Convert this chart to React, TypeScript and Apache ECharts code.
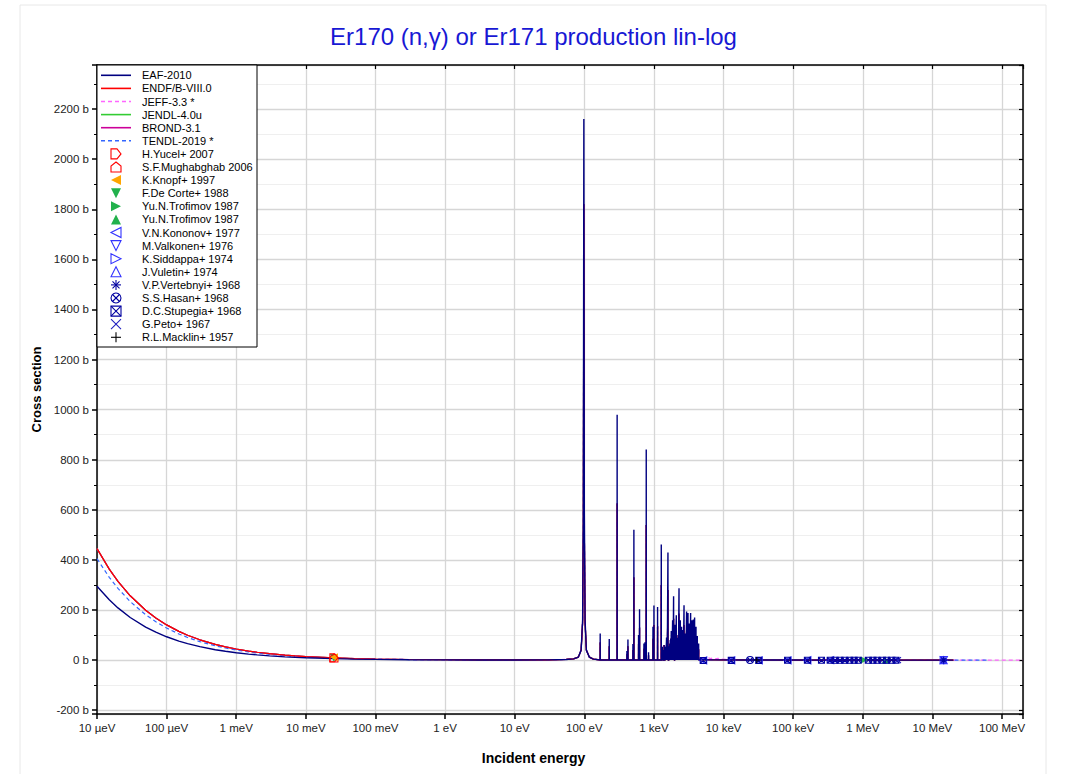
import React, { useEffect, useRef } from "react";
import * as echarts from "echarts";

// ---------- axes ----------
const xTickExponents = [-5, -4, -3, -2, -1, 0, 1, 2, 3, 4, 5, 6, 7, 8];
const xTickLabels = ["10 µeV", "100 µeV", "1 meV", "10 meV", "100 meV", "1 eV", "10 eV", "100 eV", "1 keV", "10 keV", "100 keV", "1 MeV", "10 MeV", "100 MeV"];
const energyMin = 1e-5;
const energyMax = 2e8;
const yMin = -215;
const yMax = 2376;

// ---------- evaluated curves (energy in eV, cross section in b) ----------
// 1/v region
const lowE = [1e-5, 1.5e-5, 2e-5, 3e-5, 5e-5, 7e-5, 1e-4, 1.5e-4, 2e-4, 3e-4, 5e-4, 7e-4, 1e-3, 1.5e-3, 2e-3, 3e-3, 5e-3, 7e-3, 1e-2, 0.0253, 0.05, 0.1, 0.3, 1, 3, 10, 30, 55];
const eafLow = [295, 240.9, 208.6, 170.3, 131.9, 111.5, 93.3, 76.2, 66.0, 53.9, 41.7, 35.3, 29.5, 24.1, 20.9, 17.0, 13.2, 11.1, 9.3, 5.9, 4.2, 3.0, 1.8, 1.1, 0.8, 0.7, 1.0, 2.6];
const endfLow = [445, 363.3, 314.7, 256.9, 199.0, 168.2, 140.7, 114.9, 99.5, 81.2, 62.9, 53.2, 44.5, 36.3, 31.5, 25.7, 19.9, 16.8, 14.1, 8.85, 6.3, 4.5, 2.6, 1.5, 1.0, 0.8, 1.1, 2.8];
const tendlLow = [405, 330.7, 286.4, 233.8, 181.1, 153.1, 128.1, 104.6, 90.6, 73.9, 57.3, 48.4, 40.5, 33.1, 28.6, 23.4, 18.1, 15.3, 12.8, 8.1, 5.7, 4.1, 2.4, 1.4, 0.95, 0.8, 1.1, 2.8];

// first (large) resonance
const res1E = [70, 82, 90, 94.5, 96.8, 98.4, 100, 102.5, 107, 118, 135];
const eafRes1 = [5, 12, 40, 160, 600, 2160, 600, 160, 40, 12, 4];
const othRes1 = [5, 12, 40, 150, 520, 1820, 520, 150, 40, 12, 4];

// resolved resonances
const resE = [169, 228, 296, 409, 423, 499, 515, 601, 621, 718, 743, 775, 836, 968, 1000, 1127, 1274, 1318, 1455, 1518, 1589, 1716, 1774, 1854, 1915, 2005, 2094, 2188, 2291, 2389, 2495, 2582, 2704, 2820, 2944, 3083, 3221, 3363, 3524, 3681, 3837, 4018, 4198, 4385];
const eafPeaks = [106, 84, 980, 36, 82, 64, 521, 100, 203, 66, 71, 841, 32, 133, 218, 212, 462, 53, 53, 90, 430, 80, 116, 159, 255, 141, 179, 89, 287, 159, 133, 120, 219, 106, 194, 188, 146, 188, 159, 162, 170, 133, 96, 66];
const othPeaks = [70, 55, 625, 25, 55, 40, 330, 65, 130, 45, 45, 540, 20, 85, 140, 135, 300, 35, 35, 60, 280, 50, 75, 100, 165, 90, 115, 58, 185, 100, 85, 78, 140, 68, 125, 120, 95, 120, 100, 105, 110, 85, 62, 43];
// small resonances filling the dense region
const smallResE = [1350, 1400, 1480, 1550, 1650, 1690, 1740, 1810, 1880, 1950, 2040, 2130, 2240, 2340, 2440, 2540, 2640, 2760, 2880, 3010, 3150, 3290, 3440, 3600, 3760, 3920, 4100, 4300];
const smallResPk = [40, 60, 45, 70, 55, 65, 85, 70, 90, 75, 95, 80, 100, 85, 90, 70, 95, 80, 90, 100, 85, 95, 80, 90, 70, 85, 60, 45];
const resBase = 0.8;

// fast region
const highE = [4.6e3, 6e3, 1e4, 2e4, 5e4, 1e5, 3e5, 1e6, 3e6, 1e7, 2e7];
const eafHigh = [2.5, 1.8, 1.2, 0.8, 0.5, 0.35, 0.18, 0.12, 0.05, 0.005, 0.002];
const endfHigh = [3, 2, 1.3, 0.85, 0.5, 0.35, 0.18, 0.12, 0.05, 0.005, 0.002];
const jeffHighE = [4.6e3, 4.9e3, 5.2e3, 5.6e3, 6e3, 6.5e3, 7e3, 7.6e3, 8.3e3, 9e3, 1.1e4, 1.5e4, 3e4, 1e5, 1e6, 1e7, 2e7, 1e8, 2e8];
const jeffHigh = [10, 6, 11, 7, 10, 6, 9, 5, 7, 4, 3, 2, 1, 0.4, 0.12, 0.005, 0.002, 0.001, 0.0008];
const tendlHighE = [4.6e3, 1e4, 3e4, 1e5, 1e6, 1e7, 2e7, 6e7];
const tendlHigh = [3, 1.4, 0.7, 0.35, 0.12, 0.005, 0.002, 0.001];

// ---------- experimental data ----------
const yucelE = [0.0253]; const yucelS = [9.5];
const mughE = [0.0253]; const mughS = [8.6];
const knopfE = [0.0253]; const knopfS = [11.5];
const decorteE = [0.0253]; const decorteS = [8.3];
const trofAE = [1.05e6]; const trofAS = [0.2];
const trofBE = [2.1e6]; const trofBS = [0.15];
const kononovE = [5.1e3, 1.29e4, 3.2e4, 8.3e4, 1.6e5, 3.4e5]; const kononovS = [-1.0, -0.8, -0.6, -0.5, -0.4, -0.3];
const valkonenE = [14.6e6]; const valkonenS = [0.003];
const siddappaE = [14.5e6]; const siddappaS = [0.004];
const vuletinE = [14.5e6]; const vuletinS = [0.003];
const vertebnyiE = [14.5e6]; const vertebnyiS = [0.002];
const hasanE = [2.4e4]; const hasanS = [0.6];
const stupegiaE = [5.1e3, 1.29e4, 3.2e4, 8.3e4, 1.6e5, 2.55e5, 3.4e5, 4e5, 4.7e5, 5.5e5, 6.5e5, 7.5e5, 8.6e5, 1.2e6, 1.4e6, 1.6e6, 1.9e6, 2.2e6, 2.6e6, 3.0e6];
const stupegiaS = [-1.2, -1.0, -0.8, -0.7, -0.6, -0.5, -0.5, -0.4, -0.4, -0.4, -0.3, -0.3, -0.3, -0.3, -0.2, -0.2, -0.2, -0.2, -0.2, -0.2];
const petoE = [3.2e6]; const petoS = [0.05];
const macklinE = [3.0e4]; const macklinS = [0.5];

const legendNames = [
  "EAF-2010", "ENDF/B-VIII.0", "JEFF-3.3 *", "JENDL-4.0u", "BROND-3.1", "TENDL-2019 *",
  "H.Yucel+ 2007", "S.F.Mughabghab 2006", "K.Knopf+ 1997", "F.De Corte+ 1988",
  "Yu.N.Trofimov 1987", "Yu.N.Trofimov 1987", "V.N.Kononov+ 1977", "M.Valkonen+ 1976",
  "K.Siddappa+ 1974", "J.Vuletin+ 1974", "V.P.Vertebnyi+ 1968", "S.S.Hasan+ 1968",
  "D.C.Stupegia+ 1968", "G.Peto+ 1967", "R.L.Macklin+ 1957",
];

// legend styles (same order as legendNames)
const legendStyles: any[] = [
  { kind: "line", color: "#000080" },
  { kind: "line", color: "#ff0000" },
  { kind: "line", color: "#ff66ff", dashed: true },
  { kind: "line", color: "#33cc33" },
  { kind: "line", color: "#cc0099" },
  { kind: "line", color: "#3366ff", dashed: true },
  { kind: "mark", sym: "houseRight", color: "#ff0000", hollow: true },
  { kind: "mark", sym: "houseUp", color: "#ff0000", hollow: true },
  { kind: "mark", sym: "triLeft", color: "#ffa500", hollow: false },
  { kind: "mark", sym: "triDown", color: "#22b14c", hollow: false },
  { kind: "mark", sym: "triRight", color: "#22b14c", hollow: false },
  { kind: "mark", sym: "triUp", color: "#22b14c", hollow: false },
  { kind: "mark", sym: "triLeft", color: "#3333ff", hollow: true },
  { kind: "mark", sym: "triDown", color: "#3333ff", hollow: true },
  { kind: "mark", sym: "triRight", color: "#3333ff", hollow: true },
  { kind: "mark", sym: "triUp", color: "#3333ff", hollow: true },
  { kind: "mark", sym: "star", color: "#0000a0", hollow: true },
  { kind: "mark", sym: "circleX", color: "#0000a0", hollow: true },
  { kind: "mark", sym: "squareX", color: "#0000a0", hollow: true },
  { kind: "mark", sym: "cross", color: "#2020c0", hollow: true },
  { kind: "mark", sym: "plus", color: "#000000", hollow: true },
];

const SYM: Record<string, string> = {
  houseRight: "path://M0,0 L6,0 L10,5 L6,10 L0,10 Z",
  houseUp: "path://M5,0 L10,4 L10,10 L0,10 L0,4 Z",
  triLeft: "path://M0,5 L10,0 L10,10 Z",
  triRight: "path://M0,0 L10,5 L0,10 Z",
  triUp: "path://M5,0 L10,10 L0,10 Z",
  triDown: "path://M0,0 L10,0 L5,10 Z",
  circleX: "path://M10,5 A5,5 0 1 1 0,5 A5,5 0 1 1 10,5 Z M1.5,1.5 L8.5,8.5 M8.5,1.5 L1.5,8.5",
  squareX: "path://M0,0 L10,0 L10,10 L0,10 Z M0,0 L10,10 M10,0 L0,10",
  star: "path://M5,0 L5,10 M0,5 L10,5 M1.5,1.5 L8.5,8.5 M8.5,1.5 L1.5,8.5",
  cross: "path://M0,0 L10,10 M10,0 L0,10",
  plus: "path://M5,0 L5,10 M0,5 L10,5",
};

// unit-square (0..10) geometry for the legend markers
const POLY: Record<string, number[][]> = {
  houseRight: [[0, 0], [6, 0], [10, 5], [6, 10], [0, 10]],
  houseUp: [[5, 0], [10, 4], [10, 10], [0, 10], [0, 4]],
  triLeft: [[0, 5], [10, 0], [10, 10]],
  triRight: [[0, 0], [10, 5], [0, 10]],
  triUp: [[5, 0], [10, 10], [0, 10]],
  triDown: [[0, 0], [10, 0], [5, 10]],
};
const SEGS: Record<string, number[][]> = {
  star: [[5, 0, 5, 10], [0, 5, 10, 5], [1.5, 1.5, 8.5, 8.5], [8.5, 1.5, 1.5, 8.5]],
  cross: [[0, 0, 10, 10], [10, 0, 0, 10]],
  plus: [[5, 0, 5, 10], [0, 5, 10, 5]],
  circleX: [[1.5, 1.5, 8.5, 8.5], [8.5, 1.5, 1.5, 8.5]],
  squareX: [[0, 0, 10, 10], [10, 0, 0, 10]],
};

const lg = (e: number) => Math.log10(e);
const toPts = (E: number[], S: number[]) => E.map((e, i) => [lg(e), S[i]]);
const spikes = (E: number[], P: number[], base: number) => {
  const items = E.map((e, i) => ({ e, p: P[i] })).sort((a, b) => a.e - b.e);
  const out: number[][] = [];
  items.forEach(({ e, p }) => {
    out.push([lg(e * 0.998), base], [lg(e), p], [lg(e * 1.002), base]);
  });
  return out;
};

const allResE = [...resE, ...smallResE];
const eafAllPk = [...eafPeaks, ...smallResPk];
const othAllPk = [...othPeaks, ...smallResPk];

const buildCurve = (lE: number[], lS: number[], r1: number[], pk: number[], hE: number[], hS: number[]) => [
  ...toPts(lE, lS),
  ...toPts(res1E, r1),
  ...spikes(allResE, pk, resBase),
  ...toPts(hE, hS),
];

const lineSeries = (name: string, color: string, data: number[][], dashed = false, width = 1.2) => ({
  type: "line",
  name,
  data,
  symbol: "none",
  showSymbol: false,
  silent: true,
  lineStyle: { color, width, type: dashed ? [4, 3] : "solid" },
  itemStyle: { color },
  z: 2,
});

const scatterSeries = (name: string, E: number[], S: number[], sym: string, color: string, hollow: boolean, size = 7) => ({
  type: "scatter",
  name,
  data: toPts(E, S),
  symbol: SYM[sym],
  symbolSize: size,
  silent: true,
  itemStyle: hollow
    ? { color: "none", borderColor: color, borderWidth: 1.1, opacity: 1 }
    : { color, opacity: 1 },
  z: 3,
});

const font = "Liberation Sans, Arial, Helvetica, sans-serif";

function legendGraphic() {
  const bx = 97, by = 65, bw = 160, bh = 282;
  const rowH = 13.1, firstRow = 75.3;
  const iconX0 = 101, iconX1 = 131, iconCx = 116, textX = 142, ms = 10;
  const els: any[] = [
    { type: "rect", shape: { x: bx, y: by, width: bw, height: bh }, style: { fill: "#fff", stroke: "#000", lineWidth: 1 }, z: 20, silent: true },
  ];
  legendNames.forEach((name, i) => {
    const cy = firstRow + i * rowH;
    const st = legendStyles[i];
    if (st.kind === "line") {
      els.push({
        type: "line",
        shape: { x1: iconX0, y1: cy, x2: iconX1, y2: cy },
        style: { stroke: st.color, lineWidth: 1.6, lineDash: st.dashed ? [4, 3] : null },
        z: 21, silent: true,
      });
    } else {
      const tx = (u: number) => iconCx + (u - 5) * ms / 10;
      const ty = (v: number) => cy + (v - 5) * ms / 10;
      const stroke = { stroke: st.color, lineWidth: 1.1 };
      if (POLY[st.sym]) {
        els.push({
          type: "polygon",
          shape: { points: POLY[st.sym].map(([u, v]) => [tx(u), ty(v)]) },
          style: st.hollow ? { fill: "none", ...stroke } : { fill: st.color },
          z: 21, silent: true,
        });
      }
      if (st.sym === "circleX") {
        els.push({ type: "circle", shape: { cx: iconCx, cy, r: ms / 2 }, style: { fill: "none", ...stroke }, z: 21, silent: true });
      }
      if (st.sym === "squareX") {
        els.push({ type: "rect", shape: { x: tx(0), y: ty(0), width: ms, height: ms }, style: { fill: "none", ...stroke }, z: 21, silent: true });
      }
      (SEGS[st.sym] || []).forEach(([a, b, c, d]) => {
        els.push({ type: "line", shape: { x1: tx(a), y1: ty(b), x2: tx(c), y2: ty(d) }, style: { fill: "none", ...stroke }, z: 21, silent: true });
      });
    }
    els.push({
      type: "text",
      x: textX,
      y: cy,
      style: { text: name, fill: "#000", font: `11px ${font}`, verticalAlign: "middle", align: "left" },
      z: 21, silent: true,
    });
  });
  return els;
}

export default function App() {
  const ref = useRef<HTMLDivElement>(null);
  useEffect(() => {
    if (!ref.current) return;
    const chart = echarts.init(ref.current, null, { renderer: "svg" });
    const xLabel = (v: number) => {
      const i = xTickExponents.indexOf(Math.round(v));
      if (Math.abs(v - Math.round(v)) > 1e-6 || i < 0) return "";
      return xTickLabels[i];
    };
    const yLabel = (v: number) => (Math.abs(v % 200) < 1e-6 ? `${v} b` : "");
    const xMin = lg(energyMin);
    const xMax = lg(energyMax);
    const axisLine = { show: true, onZero: false, lineStyle: { color: "#000", width: 1.5 } };

    const option: any = {
      animation: false,
      backgroundColor: "#fff",
      textStyle: { fontFamily: font },
      title: {
        text: "Er170 (n,γ) or Er171 production lin-log",
        left: "center",
        top: 19,
        textStyle: { color: "#1818d4", fontSize: 24, fontWeight: "normal", fontFamily: font },
      },
      grid: { left: 97, top: 65, width: 926, height: 649, containLabel: false, outerBoundsMode: "none" },
      xAxis: [
        {
          type: "value",
          min: xMin,
          max: xMax,
          interval: 1,
          position: "bottom",
          axisLine,
          axisTick: { show: true, length: 5, lineStyle: { color: "#000", width: 1.5 } },
          axisLabel: { formatter: xLabel, fontSize: 11.5, color: "#222", margin: 8, fontFamily: font },
          splitLine: { show: true, lineStyle: { color: "#d6d6d6", width: 1.3 } },
        },
        {
          type: "value",
          min: xMin,
          max: xMax,
          interval: 1,
          position: "top",
          axisLine,
          axisTick: { show: true, inside: true, length: 4, lineStyle: { color: "#000", width: 1.2 } },
          axisLabel: { show: false },
          splitLine: { show: false },
        },
      ],
      yAxis: [
        {
          type: "value",
          min: yMin,
          max: yMax,
          splitNumber: 13,
          position: "left",
          axisLine,
          axisTick: { show: true, length: 5, lineStyle: { color: "#000", width: 1.5 } },
          minorTick: { show: true, splitNumber: 2, length: 3, lineStyle: { color: "#000", width: 1 } },
          axisLabel: { formatter: yLabel, fontSize: 11.5, color: "#222", margin: 8, fontFamily: font },
          splitLine: { show: true, lineStyle: { color: "#d6d6d6", width: 1.3 } },
          minorSplitLine: { show: true, lineStyle: { color: "#efefef", width: 1 } },
          name: "Cross section",
          nameLocation: "middle",
          nameGap: 53,
          nameTextStyle: { fontWeight: "bold", fontSize: 13, color: "#000", fontFamily: font },
        },
        {
          type: "value",
          min: yMin,
          max: yMax,
          splitNumber: 13,
          position: "right",
          axisLine,
          axisTick: { show: true, inside: true, length: 4, lineStyle: { color: "#000", width: 1.2 } },
          minorTick: { show: true, splitNumber: 2, length: 3, lineStyle: { color: "#000", width: 1 } },
          axisLabel: { show: false },
          splitLine: { show: false },
        },
      ],
      graphic: [
        {
          type: "rect",
          shape: { x: 20, y: 5, width: 1026, height: 800 },
          style: { fill: "none", stroke: "#e8e8e8", lineWidth: 1 },
          z: -10,
          silent: true,
        },
        {
          type: "text",
          x: 533.5,
          y: 758,
          style: {
            text: "Incident energy",
            fill: "#000",
            font: `bold 14px ${font}`,
            align: "center",
            verticalAlign: "middle",
          },
          silent: true,
        },
        ...legendGraphic(),
      ],
      series: [
        lineSeries("JEFF-3.3 *", "#ff66ff", buildCurve(lowE, endfLow, othRes1, othAllPk, jeffHighE, jeffHigh), true),
        lineSeries("JENDL-4.0u", "#33cc33", buildCurve(lowE, endfLow, othRes1, othAllPk, highE, endfHigh)),
        lineSeries("BROND-3.1", "#cc0099", buildCurve(lowE, endfLow, othRes1, othAllPk, highE, endfHigh)),
        lineSeries("TENDL-2019 *", "#3366ff", buildCurve(lowE, tendlLow, othRes1, othAllPk, tendlHighE, tendlHigh), true),
        lineSeries("ENDF/B-VIII.0", "#ff0000", buildCurve(lowE, endfLow, othRes1, othAllPk, highE, endfHigh)),
        lineSeries("EAF-2010", "#000080", buildCurve(lowE, eafLow, eafRes1, eafAllPk, highE, eafHigh), false, 1.4),
        scatterSeries("F.De Corte+ 1988", decorteE, decorteS, "triDown", "#22b14c", false, 8),
        scatterSeries("S.F.Mughabghab 2006", mughE, mughS, "houseUp", "#ff0000", true, 8),
        scatterSeries("K.Knopf+ 1997", knopfE, knopfS, "triLeft", "#ffa500", false, 8),
        scatterSeries("H.Yucel+ 2007", yucelE, yucelS, "houseRight", "#ff0000", true, 8),
        scatterSeries("Yu.N.Trofimov 1987", trofAE, trofAS, "triRight", "#22b14c", false),
        scatterSeries("Yu.N.Trofimov 1987 (b)", trofBE, trofBS, "triUp", "#22b14c", false),
        scatterSeries("V.N.Kononov+ 1977", kononovE, kononovS, "triLeft", "#3333ff", true),
        scatterSeries("M.Valkonen+ 1976", valkonenE, valkonenS, "triDown", "#3333ff", true),
        scatterSeries("K.Siddappa+ 1974", siddappaE, siddappaS, "triRight", "#3333ff", true),
        scatterSeries("J.Vuletin+ 1974", vuletinE, vuletinS, "triUp", "#3333ff", true),
        scatterSeries("V.P.Vertebnyi+ 1968", vertebnyiE, vertebnyiS, "star", "#0000a0", true),
        scatterSeries("S.S.Hasan+ 1968", hasanE, hasanS, "circleX", "#0000a0", true),
        scatterSeries("D.C.Stupegia+ 1968", stupegiaE, stupegiaS, "squareX", "#0000a0", true, 6),
        scatterSeries("G.Peto+ 1967", petoE, petoS, "cross", "#2020c0", true, 6),
        scatterSeries("R.L.Macklin+ 1957", macklinE, macklinS, "plus", "#000000", true, 6),
      ],
    };
    chart.setOption(option);
    return () => chart.dispose();
  }, []);
  return (
    <div
      ref={ref}
      style={{ position: "absolute", left: 0, top: 0, width: 1067, height: 774 }}
    />
  );
}
